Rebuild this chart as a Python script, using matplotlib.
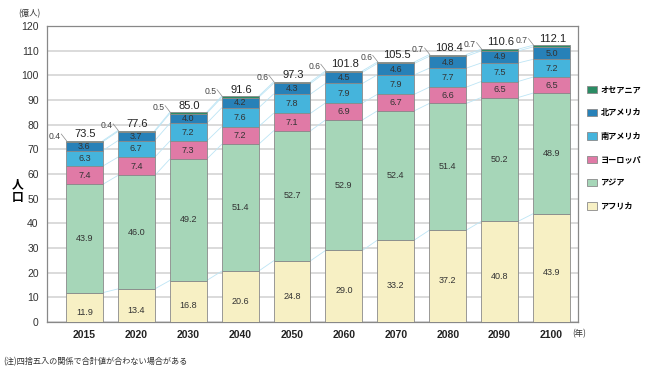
import matplotlib
matplotlib.use("Agg")
import matplotlib.pyplot as plt
import numpy as np

years = ["2015", "2020", "2030", "2040", "2050", "2060", "2070", "2080", "2090", "2100"]
africa = [11.9, 13.4, 16.8, 20.6, 24.8, 29.0, 33.2, 37.2, 40.8, 43.9]
asia = [43.9, 46.0, 49.2, 51.4, 52.7, 52.9, 52.4, 51.4, 50.2, 48.9]
europe = [7.4, 7.4, 7.3, 7.2, 7.1, 6.9, 6.7, 6.6, 6.5, 6.5]
s_america = [6.3, 6.7, 7.2, 7.6, 7.8, 7.9, 7.9, 7.7, 7.5, 7.2]
n_america = [3.6, 3.7, 4.0, 4.2, 4.3, 4.5, 4.6, 4.8, 4.9, 5.0]
oceania = [0.4, 0.4, 0.5, 0.5, 0.6, 0.6, 0.6, 0.7, 0.7, 0.7]
totals = [73.5, 77.6, 85.0, 91.6, 97.3, 101.8, 105.5, 108.4, 110.6, 112.1]
series_names = ["アフリカ", "アジア", "ヨーロッパ", "南アメリカ", "北アメリカ", "オセアニア"]
yticks = [0, 10, 20, 30, 40, 50, 60, 70, 80, 90, 100, 110, 120]

colors = ["#f7f0c4", "#a6d6b8", "#e07aa6", "#45b4dc", "#2781b8", "#2a8c64"]
JP = ["Noto Sans CJK JP", "DejaVu Sans"]
NUM = ["Liberation Sans", "Noto Sans CJK JP"]

fig = plt.figure(figsize=(6.5, 3.69), dpi=100)
ax = fig.add_axes([47/650, 1-322/369, (578-47)/650, (322-26)/369])

series = [africa, asia, europe, s_america, n_america, oceania]
x = np.arange(len(years))
w = 0.71
bottom = np.zeros(len(years))
cums = []
for vals, col, name in zip(series, colors, series_names):
    vals = np.array(vals)
    ax.bar(x, vals, w, bottom=bottom, color=col, edgecolor="#8a8a8a", linewidth=0.6, zorder=3, label=name)
    cums.append(bottom + vals)
    bottom = bottom + vals

# connector lines
for c in cums:
    for i in range(len(years)-1):
        ax.plot([x[i]+w/2, x[i+1]-w/2], [c[i], c[i+1]], color="#bde5f5", lw=0.6, zorder=2)

# value labels inside bars (all except oceania)
bottom = np.zeros(len(years))
for k, vals in enumerate(series[:-1]):
    vals = np.array(vals)
    for i in range(len(years)):
        ax.text(x[i], bottom[i] + vals[i]/2 - (1.9 if k == 0 else 0), f"{vals[i]:.1f}", ha="center", va="center",
                fontsize=6.5, color="#333333", family=NUM, zorder=4)
    bottom = bottom + vals

# totals and oceania labels
top = cums[-1]
for i in range(len(years)):
    ax.text(x[i]+0.02, top[i]+0.7, f"{totals[i]:.1f}", ha="center", va="bottom", fontsize=8,
            color="#222222", family=NUM, zorder=4)
    lx, ly = x[i]-w/2-0.1, top[i]+1.9
    ax.text(lx, ly, f"{oceania[i]:.1f}", ha="right", va="center", fontsize=6.2, color="#444444",
            family=NUM, zorder=4)
    ax.plot([lx+0.01, x[i]-w/2+0.01], [ly+0.8, top[i]], color="#888888", lw=0.5, zorder=4)

ax.set_xlim(-0.72, 9.51)
ax.set_ylim(0, 120)
ax.set_yticks(yticks)
ax.set_yticklabels([str(t) for t in yticks], family=NUM, fontsize=7.5, color="#333333")
ax.set_xticks(x)
ax.set_xticklabels(years, family=NUM, fontsize=7.5, color="#222222", fontweight="bold")
ax.tick_params(length=0, pad=6)
ax.yaxis.grid(True, color="#d4d4d4", lw=1.2, zorder=1)
ax.set_axisbelow(True)
for s in ax.spines.values():
    s.set_color("#888888")
    s.set_linewidth(0.9)

fig.text(18/650, 1-14/369, "(億人)", family=JP, fontsize=6, color="#333333", ha="left", va="center")
fig.text(18/650, 1-185/369, "人", family=JP, fontsize=8.5, fontweight="bold", ha="center", va="center")
fig.text(18/650, 1-197/369, "口", family=JP, fontsize=8.5, fontweight="bold", ha="center", va="center")
fig.text(572/650, 1-334/369, "(年)", family=JP, fontsize=6, color="#333333", ha="left", va="center")
fig.text(3/650, 1-362/369, "(注)四捨五入の関係で合計値が合わない場合がある", family=JP, fontsize=5.9, color="#333333",
         ha="left", va="center")

# legend
handles, labels = ax.get_legend_handles_labels()
leg = fig.legend(handles[::-1], labels[::-1], loc="upper left", bbox_to_anchor=(587/650, 1-85/369),
                 frameon=False, prop={"family": JP, "size": 5.9, "weight": "bold"}, handlelength=1.25,
                 handleheight=1.0, labelspacing=1.75, handletextpad=0.4, borderpad=0, borderaxespad=0)

fig.savefig("out.png", dpi=100)
